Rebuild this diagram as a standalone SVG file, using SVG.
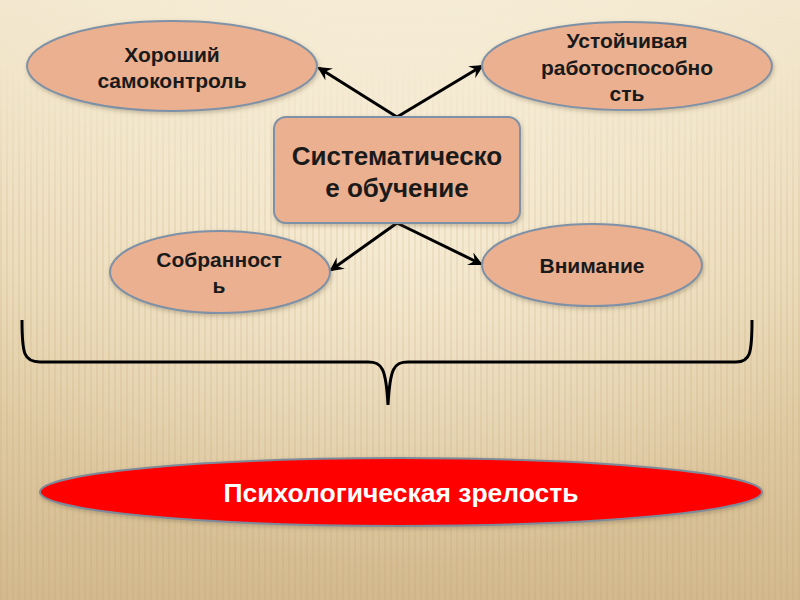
<svg xmlns="http://www.w3.org/2000/svg" width="800" height="600" viewBox="0 0 800 600">
<defs>
<linearGradient id="bg" x1="0" y1="0" x2="0" y2="1">
<stop offset="0" stop-color="#f3e8cf"/>
<stop offset="0.45" stop-color="#ead9b6"/>
<stop offset="1" stop-color="#d3b98d"/>
</linearGradient>
<radialGradient id="glow" cx="0.5" cy="0.35" r="0.6">
<stop offset="0" stop-color="#fbf4e2" stop-opacity="0.7"/>
<stop offset="1" stop-color="#fbf4e2" stop-opacity="0"/>
</radialGradient>
<linearGradient id="fade" x1="0" y1="0" x2="0" y2="1">
<stop offset="0" stop-color="#fff" stop-opacity="0"/>
<stop offset="0.3" stop-color="#fff" stop-opacity="1"/>
<stop offset="1" stop-color="#fff" stop-opacity="1"/>
</linearGradient>
<mask id="fm">
<rect x="0" y="60" width="800" height="540" fill="url(#fade)"/>
</mask>
<pattern id="stripes" width="6" height="600" patternUnits="userSpaceOnUse">
<rect x="0" y="0" width="2" height="600" fill="#b89a66" opacity="0.14"/>
</pattern>
<marker id="arr" markerWidth="14" markerHeight="14" refX="12" refY="7" orient="auto" markerUnits="userSpaceOnUse" viewBox="0 0 14 14">
<path d="M0,0 L14,7 L0,14 L5,7 Z" fill="#000"/>
</marker>
<filter id="sh" x="-10%" y="-10%" width="120%" height="130%">
<feDropShadow dx="1" dy="2" stdDeviation="2" flood-color="#6b5a3a" flood-opacity="0.35"/>
</filter>
</defs>
<style>
.node { fill: #eab090; stroke: #7e91a6; stroke-width: 2; }
.lbl { font-family: "Liberation Sans", Arial, sans-serif; font-weight: bold; fill: #1a1a1a; text-anchor: middle; }
.conn { stroke: #000; stroke-width: 3; fill: none; }
</style>
<rect width="800" height="600" fill="url(#bg)"/>
<rect width="800" height="600" fill="url(#glow)"/>
<rect y="60" width="800" height="540" fill="url(#stripes)" mask="url(#fm)"/>

<g id="connectors">
<line class="conn" x1="397" y1="117" x2="319" y2="68" marker-end="url(#arr)"/>
<line class="conn" x1="397" y1="117" x2="482" y2="66" marker-end="url(#arr)"/>
<line class="conn" x1="397" y1="223" x2="331" y2="270" marker-end="url(#arr)"/>
<line class="conn" x1="397" y1="223" x2="481" y2="264" marker-end="url(#arr)"/>
</g>

<g id="n-samokontrol">
<ellipse class="node" cx="172" cy="66" rx="145" ry="45" filter="url(#sh)"/>
<text class="lbl" x="172" y="62" font-size="21">Хороший</text>
<text class="lbl" x="172" y="88" font-size="21">самоконтроль</text>
</g>

<g id="n-rabotosposobnost">
<ellipse class="node" cx="627" cy="66" rx="145" ry="44" filter="url(#sh)"/>
<text class="lbl" x="627" y="48" font-size="21">Устойчивая</text>
<text class="lbl" x="627" y="75" font-size="21">работоспособно</text>
<text class="lbl" x="627" y="101" font-size="21">сть</text>
</g>

<g id="n-obuchenie">
<rect class="node" x="274" y="117" width="246" height="106" rx="12" filter="url(#sh)"/>
<text class="lbl" x="397" y="165" font-size="26">Систематическо</text>
<text class="lbl" x="397" y="197" font-size="26">е обучение</text>
</g>

<g id="n-sobrannost">
<ellipse class="node" cx="220" cy="272" rx="110" ry="41" filter="url(#sh)"/>
<text class="lbl" x="219" y="267" font-size="21">Собранност</text>
<text class="lbl" x="219" y="293" font-size="21">ь</text>
</g>

<g id="n-vnimanie">
<ellipse class="node" cx="592" cy="265" rx="110" ry="41" filter="url(#sh)"/>
<text class="lbl" x="592" y="273" font-size="21">Внимание</text>
</g>

<g id="brace">
<path class="conn" d="M22,320 C22,354 24,362 40,362 L368,362 C382,362 386,368 388,405 C390,368 394,362 408,362 L736,362 C750,362 752,354 752,320"/>
</g>

<g id="n-zrelost">
<ellipse cx="401" cy="492" rx="361" ry="34" fill="#ff0000" stroke="#7e8a9a" stroke-width="2" filter="url(#sh)"/>
<text x="401" y="502" font-family="'Liberation Sans', Arial, sans-serif" font-weight="bold" font-size="25" fill="#ffffff" text-anchor="middle" textLength="355" lengthAdjust="spacingAndGlyphs">Психологическая зрелость</text>
</g>
</svg>
